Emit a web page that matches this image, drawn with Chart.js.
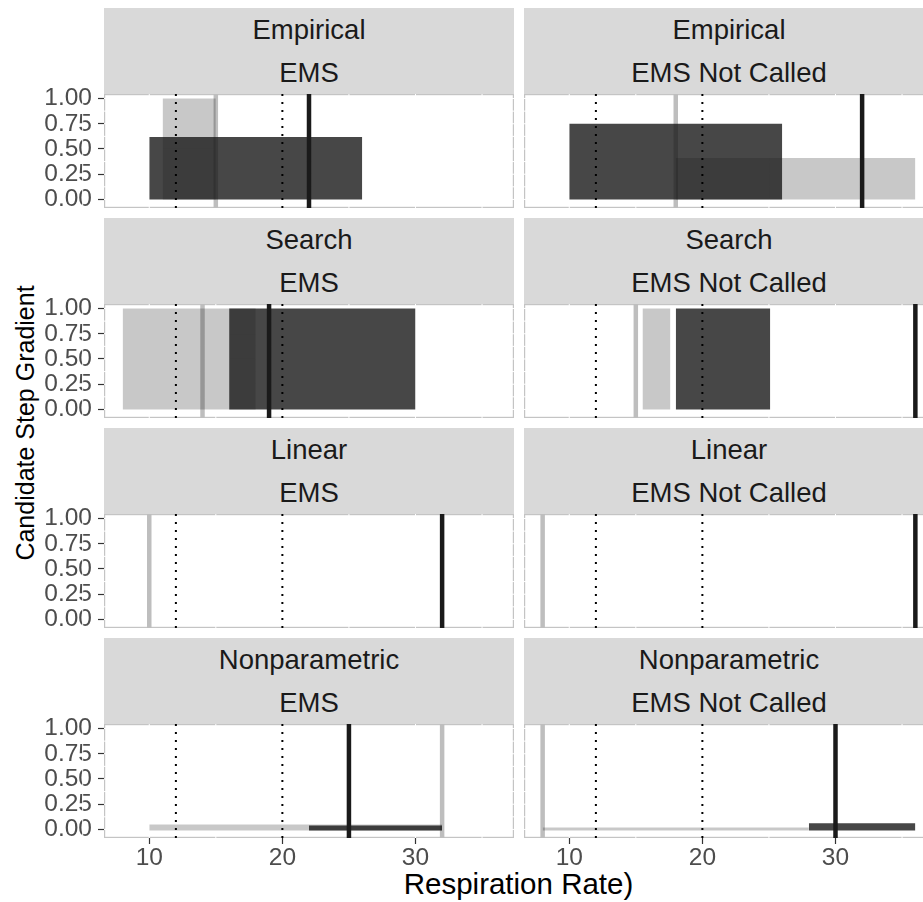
<!DOCTYPE html>
<html>
<head>
<meta charset="utf-8">
<script src="https://cdn.jsdelivr.net/npm/chart.js@4.4.1/dist/chart.umd.min.js"></script>
<style>
html, body { margin: 0; padding: 0; background: #fff; }
body { width: 923px; height: 902px; overflow: hidden; position: relative; font-family: "Liberation Sans", Arial, sans-serif; }
.strip { position: absolute; background: #d9d9d9; color: #1a1a1a; font-size: 27.5px; text-align: center; }
.strip div { height: 43px; line-height: 43px; white-space: nowrap; }
canvas { position: absolute; }
.title { position: absolute; color: #000; font-size: 29.5px; line-height: 32px; text-align: center; white-space: nowrap; }
</style>
</head>
<body>
<div class="title" id="xtitle" style="left:0;width:1037px;top:868px;">Respiration Rate)</div>
<div class="title" id="ytitle" style="left:-275px;width:600px;top:407px;font-size:25px;transform:rotate(-90deg);">Candidate Step Gradient</div>
<script>
// facets
var methods = ['Empirical', 'Search', 'Linear', 'Nonparametric'];
var groups = ['EMS', 'EMS Not Called'];
var xTicks = [10, 20, 30];
var yTicks = [0, 0.25, 0.5, 0.75, 1];
var refLines = [12, 20];

// one value per panel, row by row: EMS, EMS Not Called
var greyLine = [15, 18, 14, 15, 10, 8, 32, 8];
var darkLine = [22, 32, 19, 36, 32, 36, 25, 30];

var lightFrom = [11, 18, 8, 15.5, null, null, 10, 8];
var lightTo   = [15, 36, 18, 17.6, null, null, 32, 28];
var lightLow  = [0, 0, 0, 0, null, null, -0.01, -0.01];
var lightHigh = [1, 0.41, 1, 1, null, null, 0.05, 0.02];

var darkFrom = [10, 10, 16, 18, null, null, 22, 28];
var darkTo   = [26, 26, 30, 25.1, null, null, 32, 36];
var darkLow  = [0, 0, 0, 0, null, null, -0.01, -0.01];
var darkHigh = [0.62, 0.75, 1, 1, null, null, 0.04, 0.06];

var X_MIN = 6.6, X_MAX = 37.4;
var Y_MIN = -0.085, Y_MAX = 1.045;
var FONT = '"Liberation Sans", Arial, sans-serif';

// panel background: grey outline with white grid lines on top
var panelBg = {
    id: 'panelBg',
    beforeDatasetsDraw: function (chart) {
        var a = chart.chartArea, ctx = chart.ctx;
        var xs = chart.scales.x, ys = chart.scales.y;
        ctx.save();
        ctx.strokeStyle = '#c4c4c4';
        ctx.lineWidth = 1.2;
        ctx.strokeRect(a.left + 0.6, a.top + 0.6, a.right - a.left - 1.2, a.bottom - a.top - 1.2);
        ctx.strokeStyle = '#ffffff';
        ctx.lineWidth = 1;
        for (var v = 5; v <= 35; v += 5) {
            var px = xs.getPixelForValue(v);
            ctx.beginPath(); ctx.moveTo(px, a.top); ctx.lineTo(px, a.bottom); ctx.stroke();
        }
        for (var w = 0; w <= 1; w += 0.125) {
            var py = ys.getPixelForValue(w);
            ctx.beginPath(); ctx.moveTo(a.left, py); ctx.lineTo(a.right, py); ctx.stroke();
        }
        ctx.restore();
    }
};

function vline(x, color, width, order, dash) {
    return {
        data: [{x: x, y: Y_MIN}, {x: x, y: Y_MAX}],
        borderColor: color,
        borderWidth: width,
        borderDash: dash || [],
        pointRadius: 0,
        fill: false,
        order: order
    };
}

function rect(x0, x1, y0, y1, color, order) {
    return {
        data: [{x: x0, y: y1}, {x: x1, y: y1}],
        borderColor: 'rgba(0,0,0,0)',
        borderWidth: 0,
        backgroundColor: color,
        pointRadius: 0,
        fill: {value: y0},
        order: order
    };
}

function makePanel(r, c) {
    var i = r * 2 + c;
    var left = c === 0 ? 0 : 524;
    var width = c === 0 ? 514 : 410;
    var top = 94 + r * 210;
    var bottomRow = r === methods.length - 1;
    var leftCol = c === 0;
    var padT = 14, padB = bottomRow ? 0 : 14;
    var axisH = 44;

    var strip = document.createElement('div');
    strip.className = 'strip';
    strip.style.left = (leftCol ? 104 : 524) + 'px';
    strip.style.width = '410px';
    strip.style.top = (top - 86) + 'px';
    strip.style.height = '86px';
    strip.innerHTML = '<div>' + methods[r] + '</div><div>' + groups[c] + '</div>';
    document.body.appendChild(strip);

    var cv = document.createElement('canvas');
    cv.width = width;
    cv.height = padT + 114 + (bottomRow ? axisH : padB);
    cv.style.left = left + 'px';
    cv.style.top = (top - padT) + 'px';
    document.body.appendChild(cv);

    var ds = [];
    ds.push(vline(greyLine[i], '#bebebe', 4.5, 6));
    if (lightFrom[i] !== null) ds.push(rect(lightFrom[i], lightTo[i], lightLow[i], lightHigh[i], 'rgba(25,25,25,0.24)', 5));
    if (darkFrom[i] !== null) ds.push(rect(darkFrom[i], darkTo[i], darkLow[i], darkHigh[i], 'rgba(25,25,25,0.8)', 4));
    refLines.forEach(function (v) { ds.push(vline(v, '#000000', 2, 2, [2, 6])); });
    ds.push(vline(darkLine[i], '#1a1a1a', 4.5, 1));

    new Chart(cv, {
        type: 'line',
        data: {datasets: ds},
        options: {
            responsive: false,
            animation: false,
            devicePixelRatio: 1,
            events: [],
            layout: {padding: {top: padT, bottom: padB, left: 0, right: 0}},
            plugins: {legend: {display: false}, tooltip: {enabled: false}},
            scales: {
                x: {
                    type: 'linear',
                    min: X_MIN, max: X_MAX,
                    display: bottomRow,
                    afterBuildTicks: function (s) { s.ticks = xTicks.map(function (v) { return {value: v}; }); },
                    afterFit: function (s) {
                        if (bottomRow) s.height = axisH;
                        s.paddingLeft = 0; s.paddingRight = 0;
                    },
                    grid: {drawOnChartArea: false, drawTicks: true, tickLength: 6, tickColor: '#333333', tickWidth: 1.2},
                    border: {display: false},
                    ticks: {color: '#4d4d4d', font: {size: 24.5, family: FONT}, padding: 0, maxRotation: 0, autoSkip: false}
                },
                y: {
                    type: 'linear',
                    min: Y_MIN, max: Y_MAX,
                    display: leftCol,
                    afterBuildTicks: function (s) { s.ticks = yTicks.map(function (v) { return {value: v}; }); },
                    afterFit: function (s) {
                        if (leftCol) s.width = 104;
                        s.paddingTop = 0; s.paddingBottom = 0;
                    },
                    grid: {drawOnChartArea: false, drawTicks: true, tickLength: 6, tickColor: '#333333', tickWidth: 1.2},
                    border: {display: false},
                    ticks: {color: '#4d4d4d', font: {size: 24.5, family: FONT}, padding: 6, autoSkip: false,
                        callback: function (v) { return Number(v).toFixed(2); }}
                }
            }
        },
        plugins: [panelBg]
    });
}

for (var r = 0; r < methods.length; r++) {
    for (var c = 0; c < groups.length; c++) makePanel(r, c);
}
</script>
</body>
</html>
